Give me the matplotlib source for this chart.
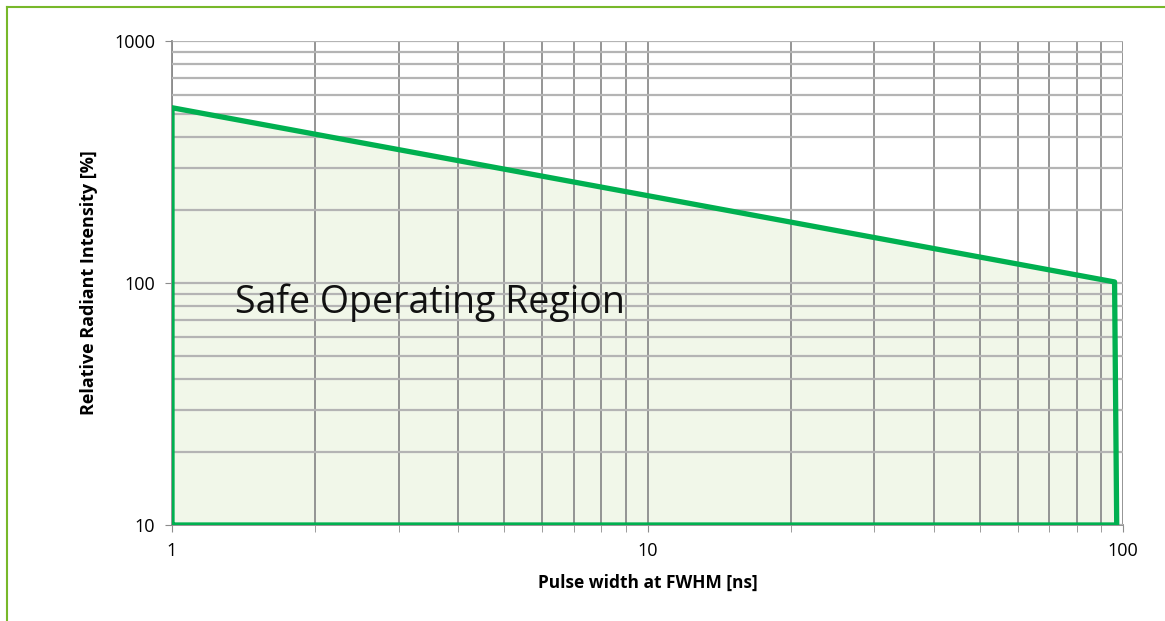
import numpy as np
import matplotlib.pyplot as plt
from matplotlib.ticker import FixedLocator, NullFormatter

# polygon of the safe operating area (pulse width ns, relative intensity %)
pulse_ns = [1, 1, 96, 97, 1]
intensity = [10, 530, 101, 10, 10]

x_ticks = [1, 10, 100]
x_tick_labels = ["1", "10", "100"]
y_ticks = [10, 100, 1000]
y_tick_labels = ["10", "100", "1000"]

plt.rcParams["font.family"] = ["Open Sans", "DejaVu Sans"]

fig = plt.figure(figsize=(11.65, 6.21), dpi=100)
ax = fig.add_axes([172 / 1165, 1 - 525 / 621, (1123 - 172) / 1165, (525 - 41) / 621])

ax.set_xscale("log")
ax.set_yscale("log")
ax.set_xlim(1, 100)
ax.set_ylim(10, 1000)

minor = [m * 10 ** e for e in range(0, 3) for m in range(2, 10)]
ax.xaxis.set_minor_locator(FixedLocator([v for v in minor if v < 100]))
ax.yaxis.set_minor_locator(FixedLocator([v * 10 for v in minor if v * 10 < 1000]))
ax.xaxis.set_minor_formatter(NullFormatter())
ax.yaxis.set_minor_formatter(NullFormatter())
ax.set_xticks(x_ticks)
ax.set_xticklabels(x_tick_labels)
ax.set_yticks(y_ticks)
ax.set_yticklabels(y_tick_labels)

ax.set_axisbelow(False)
ax.grid(True, which="both", axis="x", color="#8c8c8c", linewidth=1.3, zorder=2)
ax.grid(True, which="both", axis="y", color="#b4b4b4", linewidth=1.6, zorder=2)

ax.fill(pulse_ns, intensity, color="#f1f7e9", zorder=1, linewidth=0)
ax.plot(pulse_ns, intensity, color="#00b050", linewidth=3.8, zorder=3,
        solid_joinstyle="round", solid_capstyle="round")

ax.text(1.36, 83, "Safe Operating Region", fontsize=27, va="center", ha="left",
        color="#111111", zorder=4)

for side in ["top", "right"]:
    ax.spines[side].set_visible(False)
ax.spines["left"].set_color("#8c8c8c")
ax.spines["bottom"].set_color("#8c8c8c")
ax.spines["left"].set_linewidth(1.3)
ax.spines["bottom"].set_linewidth(1.3)

ax.tick_params(which="major", axis="both", length=5, color="#8c8c8c", labelsize=13,
               pad=7)
ax.tick_params(which="minor", axis="x", length=5, color="#8c8c8c")
ax.tick_params(which="minor", axis="y", length=0)

ax.set_xlabel("Pulse width at FWHM [ns]", fontsize=12.5, fontweight="bold", labelpad=10)
ax.set_ylabel("Relative Radiant Intensity [%]", fontsize=13, fontweight="bold",
              labelpad=12)

# outer green frame (left and top edges visible)
frame_col = "#77b82a"
fig.add_artist(plt.Line2D([7 / 1165, 7 / 1165], [0, 1 - 7 / 621], color=frame_col,
                          linewidth=1.5, transform=fig.transFigure))
fig.add_artist(plt.Line2D([7 / 1165, 1], [1 - 7 / 621, 1 - 7 / 621], color=frame_col,
                          linewidth=1.5, transform=fig.transFigure))

fig.savefig("out.png", dpi=100)
